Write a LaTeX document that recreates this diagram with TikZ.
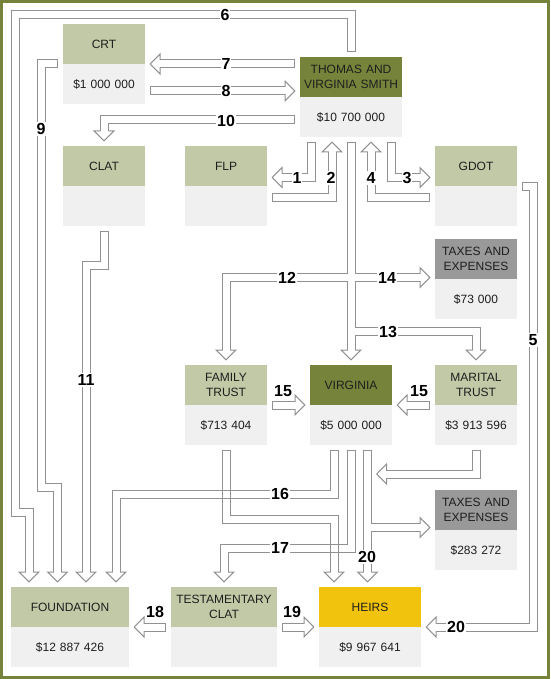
\documentclass[tikz,border=0pt]{standalone}
\usepackage{fontspec}
\setmainfont{Liberation Sans}
\usepackage{xcolor}
\usepackage{tikz}
\usetikzlibrary{positioning, arrows.meta}

\definecolor{olivefonce}{RGB}{118,131,58}
\definecolor{olivepale}{RGB}{194,201,166}
\definecolor{grisclair}{RGB}{240,240,240}
\definecolor{grismoyen}{RGB}{153,153,153}
\definecolor{jaune}{RGB}{242,195,12}
\definecolor{trait}{RGB}{145,145,145}
\definecolor{texte}{RGB}{30,30,30}

\tikzstyle{entete} = [rectangle, fill=olivepale, minimum height=40pt, minimum width=82pt, text width=80pt, text centered, inner sep=0pt, outer sep=0pt, text=texte, font=\fontsize{12}{14.3}\selectfont]
\tikzstyle{valeur} = [entete, fill=grisclair]
\tikzstyle{numero} = [fill=white, inner sep=1pt, font=\bfseries\fontsize{16}{16}\selectfont]
\tikzstyle{tuyaugris} = [draw=trait, line width=9pt, shorten <=5pt, shorten >=4.5pt, -{Triangle[width=22pt, length=11pt, line width=1pt, fill=white]}]
\tikzstyle{tuyaublanc} = [draw=white, line width=7pt, shorten <=6pt, shorten >=13.5pt]
\tikzstyle{croisement} = [draw=trait, line width=1pt]
\tikzstyle{cadre} = [draw=olivefonce, line width=2.6pt]

\begin{document}
\begin{tikzpicture}[x=1pt, y=-1pt]
    \useasboundingbox (0,0) rectangle (550,679);

    %% cadre
    \draw[cadre] (1.3,1.3) rectangle (548.7,677.7);

    %% couple
    \node (tvs) [entete, fill=olivefonce, minimum width=102pt, text width=100pt] at (351,77) {THOMAS AND\\VIRGINIA SMITH};
    \node (tvsv) [valeur, minimum width=102pt, text width=100pt, below=0pt of tvs] {\$10 700 000};

    %% CRT et CLAT
    \node (crt) [entete] at (104,44) {CRT};
    \node (crtv) [valeur, below=0pt of crt] {\$1 000 000};
    \node (clat) [entete] at (104,166) {CLAT};
    \node (clatv) [valeur, below=0pt of clat] {};

    %% FLP et GDOT
    \node (flp) [entete] at (226,166) {FLP};
    \node (flpv) [valeur, below=0pt of flp] {};
    \node (gdot) [entete] at (476,166) {GDOT};
    \node (gdotv) [valeur, below=0pt of gdot] {};

    %% taxes
    \node (taxes1) [entete, fill=grismoyen] at (476,259) {TAXES AND\\EXPENSES};
    \node (taxes1v) [valeur, below=0pt of taxes1] {\$73 000};
    \node (taxes2) [entete, fill=grismoyen] at (476,510) {TAXES AND\\EXPENSES};
    \node (taxes2v) [valeur, below=0pt of taxes2] {\$283 272};

    %% trusts et Virginia
    \node (ft) [entete] at (226,385) {FAMILY\\TRUST};
    \node (ftv) [valeur, below=0pt of ft] {\$713 404};
    \node (virginia) [entete, fill=olivefonce] at (351,385) {VIRGINIA};
    \node (virginiav) [valeur, below=0pt of virginia] {\$5 000 000};
    \node (marital) [entete] at (476,385) {MARITAL\\TRUST};
    \node (maritalv) [valeur, below=0pt of marital] {\$3 913 596};

    %% beneficiaires
    \node (fond) [entete, minimum width=118pt, text width=116pt] at (70,607) {FOUNDATION};
    \node (fondv) [valeur, minimum width=118pt, text width=116pt, below=0pt of fond] {\$12 887 426};
    \node (tclat) [entete, minimum width=106pt, text width=104pt] at (224,607) {TESTAMENTARY\\CLAT};
    \node (tclatv) [valeur, minimum width=106pt, text width=104pt, below=0pt of tclat] {};
    \node (heirs) [entete, fill=jaune, minimum width=102pt, text width=100pt] at (370,607) {HEIRS};
    \node (heirsv) [valeur, minimum width=102pt, text width=100pt, below=0pt of heirs] {\$9 967 641};

    \coordinate (jonction) at (371.5,474);

    %% tuyaux
    \foreach \passe in {tuyaugris, tuyaublanc} {
        \draw[\passe] (tvs.north) |- (15.5,14.5) |- (29,512) -- ([xshift=-41pt]fond.north);
        \draw[\passe] ([yshift=13pt]tvs.west) -- (crt.south east);
        \draw[\passe] ([yshift=-7pt]crtv.east) -- ([yshift=-14pt]tvs.west);
        \draw[\passe] ([yshift=-3pt]tvsv.west) -| (clat.north);
        \draw[\passe] (crt.south west) -| (41,487) -| ([xshift=-12.5pt]fond.north);
        \draw[\passe] (clatv.south) |- (86,265.5) -- ([xshift=16pt]fond.north);

        \draw[\passe] ([xshift=-40pt]tvsv.south) |- ([yshift=-11.5pt]flp.east);
        \draw[\passe] ([yshift=9pt]flpv.east) -| ([xshift=-19pt]tvsv.south);
        \draw[\passe] ([xshift=40pt]tvsv.south) |- ([yshift=-11.5pt]gdot.west);
        \draw[\passe] ([yshift=9pt]gdotv.west) -| ([xshift=20pt]tvsv.south);
        \draw[\passe] (gdot.south east) -- ++(16.5,0) |- (heirs.south east);

        \draw[\passe] (tvsv.south) -- (virginia.north);
        \draw[\passe] (tvsv.south) |- (226,277.5) -- (ft.north);
        \draw[\passe] (tvsv.south) |- ([yshift=1.5pt]taxes1.south west);
        \draw[\passe] (tvsv.south) |- (476,331.5) -- (marital.north);

        \draw[\passe] (ft.south east) -- (virginia.south west);
        \draw[\passe] (marital.south west) -- (virginia.south east);

        \draw[\passe] ([xshift=-17pt]virginiav.south) |- (116,494) -- ([xshift=46pt]fond.north);
        \draw[\passe] (virginiav.south) |- (224,548) -- (tclat.north);
        \draw[\passe] ([xshift=16.5pt]virginiav.south) -- ([xshift=-2.5pt]heirs.north);
        \draw[\passe] ([xshift=16.5pt]virginiav.south) |- ([yshift=2.5pt]taxes2.south west);
        \draw[\passe] (ftv.south) |- (334,519.5) -- ([xshift=-36pt]heirs.north);
        \draw[\passe] (maritalv.south) |- (jonction);

        \draw[\passe] (tclat.south west) -- (fond.south east);
        \draw[\passe] (tclat.south east) -- (heirs.south west);
    }

    %% croisements
    \draw[croisement] (222,490) rectangle (230,498);
    \draw[croisement] (330,544) rectangle (338,552);

    %% numeros
    \node (n1) [numero] at (297,178) {1};
    \node (n2) [numero] at (331,178) {2};
    \node (n3) [numero] at (407,178) {3};
    \node (n4) [numero] at (371,178) {4};
    \node (n5) [numero] at (533,340) {5};
    \node (n6) [numero] at (225,15) {6};
    \node (n7) [numero] at (226,64) {7};
    \node (n8) [numero] at (226,91) {8};
    \node (n9) [numero] at (41,129) {9};
    \node (n10) [numero] at (226,121) {10};
    \node (n11) [numero] at (86,380) {11};
    \node (n12) [numero] at (287,278) {12};
    \node (n13) [numero] at (388,332) {13};
    \node (n14) [numero] at (387,278) {14};
    \node (n15a) [numero] at (283,391) {15};
    \node (n15b) [numero] at (419,391) {15};
    \node (n16) [numero] at (280,494) {16};
    \node (n17) [numero] at (280,548) {17};
    \node (n18) [numero] at (155,612) {18};
    \node (n19) [numero] at (292,612) {19};
    \node (n20a) [numero] at (367,557) {20};
    \node (n20b) [numero] at (456,627) {20};
\end{tikzpicture}
\end{document}
